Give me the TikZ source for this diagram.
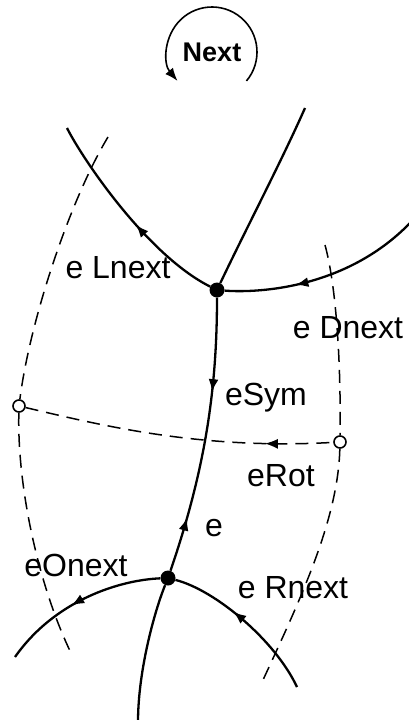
\documentclass[tikz,border=0pt]{standalone}
\usepackage{fontspec}
\setmainfont{Liberation Sans}
\usetikzlibrary{arrows.meta, decorations.markings}
\tikzset{
    >={Latex[length=13pt, width=10pt]},
    vert/.style={circle, fill=black, inner sep=0pt, minimum size=15pt},
    dualvert/.style={circle, draw=black, fill=white, line width=1.6pt,
                     inner sep=0pt, minimum size=12pt},
    edge/.style={line width=2.3pt},
    dualedge/.style={line width=1.5pt, dash pattern=on 13pt off 8pt},
    lbl/.style={font=\fontsize{32}{34}\selectfont, inner sep=1pt},
    fwdat/.style={postaction={decorate, decoration={markings,
                  mark=at position #1 with {\arrow{>}}}}},
    bwdat/.style={postaction={decorate, decoration={markings,
                  mark=at position #1 with {\arrowreversed{>}}}}},
}
\begin{document}
\begin{tikzpicture}[x=1pt, y=-1pt]
    \useasboundingbox (0,0) rectangle (408,720);

    % Vertices
    \node[vert] (top) at (217,290) {};
    \node[vert] (bot) at (168,578) {};
    \node[dualvert] (left) at (19,406) {};
    \node[dualvert] (right) at (340,442) {};

    % Free ends
    \coordinate (ul) at (67,128);
    \coordinate (ur) at (305,108);
    \coordinate (re) at (410,223);
    \coordinate (ll) at (15,657);
    \coordinate (lr) at (297,687);
    \coordinate (ld) at (138,722);
    \coordinate (lt) at (108,137);
    \coordinate (lb) at (72,655);
    \coordinate (rt) at (325,245);
    \coordinate (rb) at (263,680);

    % Primal edges
    \draw[edge, fwdat=0.45] (top) .. controls (147,255) and (82,158) .. (ul);
    \draw[edge] (top) .. controls (248,225) and (282,160) .. (ur);
    \draw[edge, bwdat=0.35] (top) .. controls (255,293) and (345,290) .. (re);
    \draw[edge, fwdat=0.34, bwdat=0.8] (top) .. controls (217,390) and (205,470) .. (bot);
    \draw[edge, fwdat=0.55] (bot) .. controls (120,580) and (55,600) .. (ll);
    \draw[edge, bwdat=0.4] (bot) .. controls (215,590) and (275,640) .. (lr);
    \draw[edge] (bot) .. controls (155,610) and (138,670) .. (ld);

    % Dual edges
    \draw[dualedge] (lt) .. controls (70,200) and (30,320) .. (left);
    \draw[dualedge] (left) .. controls (17,490) and (40,590) .. (lb);
    \draw[dualedge] (rt) .. controls (336,285) and (341,360) .. (right);
    \draw[dualedge] (right) .. controls (338,520) and (300,600) .. (rb);
    \draw[dualedge, bwdat=0.78] (left) .. controls (100,425) and (200,450) .. (right);

    % Labels
    \node[lbl] (lnext) at (118,268) {e Lnext};
    \node[lbl] (dnext) at (348,328) {e Dnext};
    \node[lbl] (sym) at (266,398) {eSym};
    \node[lbl] (rot) at (281,476) {eRot};
    \node[lbl] (e) at (214,528) {e};
    \node[lbl] (onext) at (76,565) {eOnext};
    \node[lbl] (rnext) at (293,588) {e Rnext};

    % Next
    \node[font=\fontsize{27}{29}\selectfont\bfseries] (next) at (212,52) {Next};
    \draw[line width=1.6pt, ->] ([shift={(40:45)}]next.center)
        arc[start angle=40, end angle=-220, radius=45];
\end{tikzpicture}
\end{document}
